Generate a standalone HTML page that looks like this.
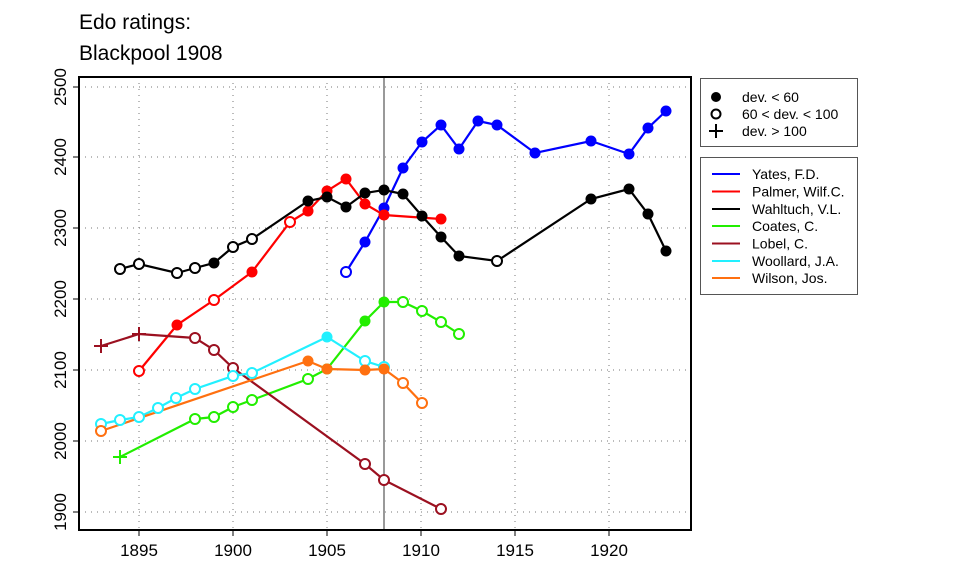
<!DOCTYPE html>
<html><head><style>body{margin:0;background:#fff}svg{display:block}text{font-family:"Liberation Sans",Arial,sans-serif}</style></head><body>
<svg width="960" height="576" xmlns="http://www.w3.org/2000/svg">
<text x="79" y="29" font-size="21">Edo ratings:</text>
<text x="79" y="60" font-size="21">Blackpool 1908</text>
<g stroke="#777" stroke-width="1" stroke-dasharray="1,5">
<line x1="139" y1="77" x2="139" y2="530"/><line x1="233" y1="77" x2="233" y2="530"/><line x1="327" y1="77" x2="327" y2="530"/><line x1="421" y1="77" x2="421" y2="530"/><line x1="515" y1="77" x2="515" y2="530"/><line x1="609" y1="77" x2="609" y2="530"/>
<line x1="79" y1="87" x2="691" y2="87"/><line x1="79" y1="157" x2="691" y2="157"/><line x1="79" y1="228" x2="691" y2="228"/><line x1="79" y1="299" x2="691" y2="299"/><line x1="79" y1="370" x2="691" y2="370"/><line x1="79" y1="441" x2="691" y2="441"/><line x1="79" y1="512" x2="691" y2="512"/>
</g>
<line x1="384" y1="77" x2="384" y2="530" stroke="#999" stroke-width="2"/>
<rect x="79" y="77" width="612" height="453" fill="none" stroke="#000" stroke-width="2"/>
<g stroke="#000" stroke-width="1">
<line x1="139" y1="530" x2="139" y2="536"/><line x1="233" y1="530" x2="233" y2="536"/><line x1="327" y1="530" x2="327" y2="536"/><line x1="421" y1="530" x2="421" y2="536"/><line x1="515" y1="530" x2="515" y2="536"/><line x1="609" y1="530" x2="609" y2="536"/>
<line x1="73" y1="87" x2="79" y2="87"/><line x1="73" y1="157" x2="79" y2="157"/><line x1="73" y1="228" x2="79" y2="228"/><line x1="73" y1="299" x2="79" y2="299"/><line x1="73" y1="370" x2="79" y2="370"/><line x1="73" y1="441" x2="79" y2="441"/><line x1="73" y1="512" x2="79" y2="512"/>
</g>
<g font-size="17" text-anchor="middle">
<text x="139" y="556">1895</text><text x="233" y="556">1900</text><text x="327" y="556">1905</text><text x="421" y="556">1910</text><text x="515" y="556">1915</text><text x="609" y="556">1920</text>
<text transform="translate(66,87) rotate(-90)">2500</text><text transform="translate(66,157) rotate(-90)">2400</text><text transform="translate(66,228) rotate(-90)">2300</text><text transform="translate(66,299) rotate(-90)">2200</text><text transform="translate(66,370) rotate(-90)">2100</text><text transform="translate(66,441) rotate(-90)">2000</text><text transform="translate(66,512) rotate(-90)">1900</text>
</g>
<g fill="none" stroke-width="2.2">
<polyline stroke="#0000ff" points="346,272 365,242 384,208 403,168 422,142 441,125 459,149 478,121 497,125 535,153 591,141 629,154 648,128 666,111"/>
<polyline stroke="#ff0000" points="139,371 177,325 214,300 252,272 290,222 308,211 327,191 346,179 365,204 384,215 441,219"/>
<polyline stroke="#000" points="120,269 139,264 177,273 195,268 214,263 233,247 252,239 308,201 327,197 346,207 365,193 384,190 403,194 422,216 441,237 459,256 497,261 591,199 629,189 648,214 666,251"/>
<polyline stroke="#22ee00" points="120,457 195,419 214,417 233,407 252,400 308,379 327,369 365,321 384,302 403,302 422,311 441,322 459,334"/>
<polyline stroke="#9b1020" points="101,346 139,334 195,338 214,350 233,368 365,464 384,480 441,509"/>
<polyline stroke="#22f0ff" points="101,424 120,420 139,417 158,408 176,398 195,389 233,376 252,373 327,337 365,361 384,367"/>
<polyline stroke="#ff7010" points="101,431 308,361 327,369 365,370 384,369 403,383 422,403"/>
</g>
<g fill="#0000ff"><circle cx="365" cy="242" r="5.5"/><circle cx="384" cy="208" r="5.5"/><circle cx="403" cy="168" r="5.5"/><circle cx="422" cy="142" r="5.5"/><circle cx="441" cy="125" r="5.5"/><circle cx="459" cy="149" r="5.5"/><circle cx="478" cy="121" r="5.5"/><circle cx="497" cy="125" r="5.5"/><circle cx="535" cy="153" r="5.5"/><circle cx="591" cy="141" r="5.5"/><circle cx="629" cy="154" r="5.5"/><circle cx="648" cy="128" r="5.5"/><circle cx="666" cy="111" r="5.5"/></g>
<circle cx="346" cy="272" r="5" fill="#fff" stroke="#0000ff" stroke-width="2"/>
<g fill="#ff0000"><circle cx="177" cy="325" r="5.5"/><circle cx="252" cy="272" r="5.5"/><circle cx="308" cy="211" r="5.5"/><circle cx="327" cy="191" r="5.5"/><circle cx="346" cy="179" r="5.5"/><circle cx="365" cy="204" r="5.5"/><circle cx="384" cy="215" r="5.5"/><circle cx="441" cy="219" r="5.5"/></g>
<g fill="#fff" stroke="#ff0000" stroke-width="2"><circle cx="139" cy="371" r="5"/><circle cx="214" cy="300" r="5"/><circle cx="290" cy="222" r="5"/></g>
<g fill="#000"><circle cx="214" cy="263" r="5.5"/><circle cx="308" cy="201" r="5.5"/><circle cx="327" cy="197" r="5.5"/><circle cx="346" cy="207" r="5.5"/><circle cx="365" cy="193" r="5.5"/><circle cx="384" cy="190" r="5.5"/><circle cx="403" cy="194" r="5.5"/><circle cx="422" cy="216" r="5.5"/><circle cx="441" cy="237" r="5.5"/><circle cx="459" cy="256" r="5.5"/><circle cx="591" cy="199" r="5.5"/><circle cx="629" cy="189" r="5.5"/><circle cx="648" cy="214" r="5.5"/><circle cx="666" cy="251" r="5.5"/></g>
<g fill="#fff" stroke="#000" stroke-width="2"><circle cx="120" cy="269" r="5"/><circle cx="139" cy="264" r="5"/><circle cx="177" cy="273" r="5"/><circle cx="195" cy="268" r="5"/><circle cx="233" cy="247" r="5"/><circle cx="252" cy="239" r="5"/><circle cx="497" cy="261" r="5"/></g>
<g fill="#22ee00"><circle cx="327" cy="369" r="5.5"/><circle cx="365" cy="321" r="5.5"/><circle cx="384" cy="302" r="5.5"/></g>
<g fill="#fff" stroke="#22ee00" stroke-width="2"><circle cx="195" cy="419" r="5"/><circle cx="214" cy="417" r="5"/><circle cx="233" cy="407" r="5"/><circle cx="252" cy="400" r="5"/><circle cx="308" cy="379" r="5"/><circle cx="403" cy="302" r="5"/><circle cx="422" cy="311" r="5"/><circle cx="441" cy="322" r="5"/><circle cx="459" cy="334" r="5"/></g>
<path d="M113,457h14M120,450v14" stroke="#22ee00" stroke-width="2"/>
<g fill="#fff" stroke="#9b1020" stroke-width="2"><circle cx="195" cy="338" r="5"/><circle cx="214" cy="350" r="5"/><circle cx="233" cy="368" r="5"/><circle cx="365" cy="464" r="5"/><circle cx="384" cy="480" r="5"/><circle cx="441" cy="509" r="5"/></g>
<path d="M94,346h14M101,339v14M132,334h14M139,327v14" stroke="#9b1020" stroke-width="2"/>
<g fill="#fff" stroke="#22f0ff" stroke-width="2"><circle cx="101" cy="424" r="5"/><circle cx="120" cy="420" r="5"/><circle cx="139" cy="417" r="5"/><circle cx="158" cy="408" r="5"/><circle cx="176" cy="398" r="5"/><circle cx="195" cy="389" r="5"/><circle cx="233" cy="376" r="5"/><circle cx="252" cy="373" r="5"/><circle cx="365" cy="361" r="5"/><circle cx="384" cy="367" r="5"/></g>
<circle cx="327" cy="337" r="5.5" fill="#22f0ff"/>
<g fill="#ff7010"><circle cx="308" cy="361" r="5.5"/><circle cx="327" cy="369" r="5.5"/><circle cx="365" cy="370" r="5.5"/><circle cx="384" cy="369" r="5.5"/></g>
<g fill="#fff" stroke="#ff7010" stroke-width="2"><circle cx="101" cy="431" r="5"/><circle cx="403" cy="383" r="5"/><circle cx="422" cy="403" r="5"/></g>
<rect x="700.5" y="78.5" width="157" height="68" fill="#fff" stroke="#555"/>
<circle cx="716" cy="97" r="5" fill="#000"/>
<circle cx="716" cy="114" r="4.5" fill="none" stroke="#000" stroke-width="2"/>
<path d="M709,131h14M716,124v14" stroke="#000" stroke-width="2"/>
<g font-size="14"><text x="742" y="102">dev. &lt; 60</text><text x="742" y="119">60 &lt; dev. &lt; 100</text><text x="742" y="136">dev. &gt; 100</text></g>
<rect x="700.5" y="157.5" width="157" height="137" fill="#fff" stroke="#555"/>
<g stroke-width="2"><line x1="712" x2="740" y1="174" y2="174" stroke="#0000ff"/><line x1="712" x2="740" y1="191.5" y2="191.5" stroke="#ff0000"/><line x1="712" x2="740" y1="209" y2="209" stroke="#000"/><line x1="712" x2="740" y1="226" y2="226" stroke="#22ee00"/><line x1="712" x2="740" y1="243.5" y2="243.5" stroke="#9b1020"/><line x1="712" x2="740" y1="261" y2="261" stroke="#22f0ff"/><line x1="712" x2="740" y1="278" y2="278" stroke="#ff7010"/></g>
<g font-size="14"><text x="752" y="179">Yates, F.D.</text><text x="752" y="196.5">Palmer, Wilf.C.</text><text x="752" y="214">Wahltuch, V.L.</text><text x="752" y="231">Coates, C.</text><text x="752" y="248.5">Lobel, C.</text><text x="752" y="266">Woollard, J.A.</text><text x="752" y="283">Wilson, Jos.</text></g>
</svg>
</body></html>
